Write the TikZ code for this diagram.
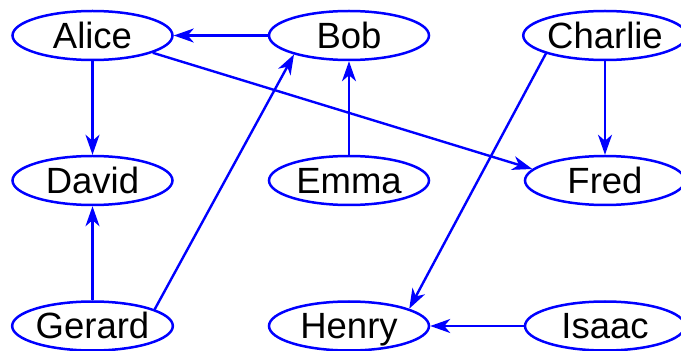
\documentclass[tikz,border=0pt]{standalone}
\usepackage{fontspec}
\setmainfont{Liberation Sans}
\usetikzlibrary{arrows.meta,shapes.geometric}
\definecolor{edgeblue}{RGB}{0,0,255}
\tikzset{
  person/.style={ellipse, draw=edgeblue, line width=2.5pt, minimum width=160pt, minimum height=49pt,
    inner sep=0pt, font=\fontsize{36.5}{40}\selectfont, text height=26pt, text depth=0pt, text=black},
  arr/.style={draw=edgeblue, line width=2.4pt, -{Stealth[length=20pt,width=14pt,inset=6pt]}}
}
\begin{document}
\begin{tikzpicture}[x=1pt,y=1pt]
\useasboundingbox (0,0) rectangle (681,351);
\clip (0,0) rectangle (681,351);
\node[person] (Alice)   at (92.5,315.5) {Alice};
\node[person] (Bob)     at (349,315.5)  {Bob};
\node[person] (Charlie) at (605,315.5)  {Charlie};
\node[person] (David)   at (92.5,170.5) {David};
\node[person] (Emma)    at (349,170.5)  {Emma};
\node[person] (Fred)    at (605,170.5)  {Fred};
\node[person] (Gerard)  at (92.5,25)    {Gerard};
\node[person] (Henry)   at (349,25)     {Henry};
\node[person] (Isaac)   at (605,25)     {Isaac};
\draw[arr] (Bob) -- (Alice);
\draw[arr] (Alice) -- (David);
\draw[arr] (Alice.-16) -- (Fred.171);
\draw[arr] (Emma) -- (Bob);
\draw[arr] (Gerard.15) -- (Bob.199);
\draw[arr] (Gerard) -- (David);
\draw[arr] (Charlie) -- (Fred);
\draw[arr] (Charlie.197) -- (Henry.16);
\draw[arr] (Isaac) -- (Henry);
\end{tikzpicture}
\end{document}
